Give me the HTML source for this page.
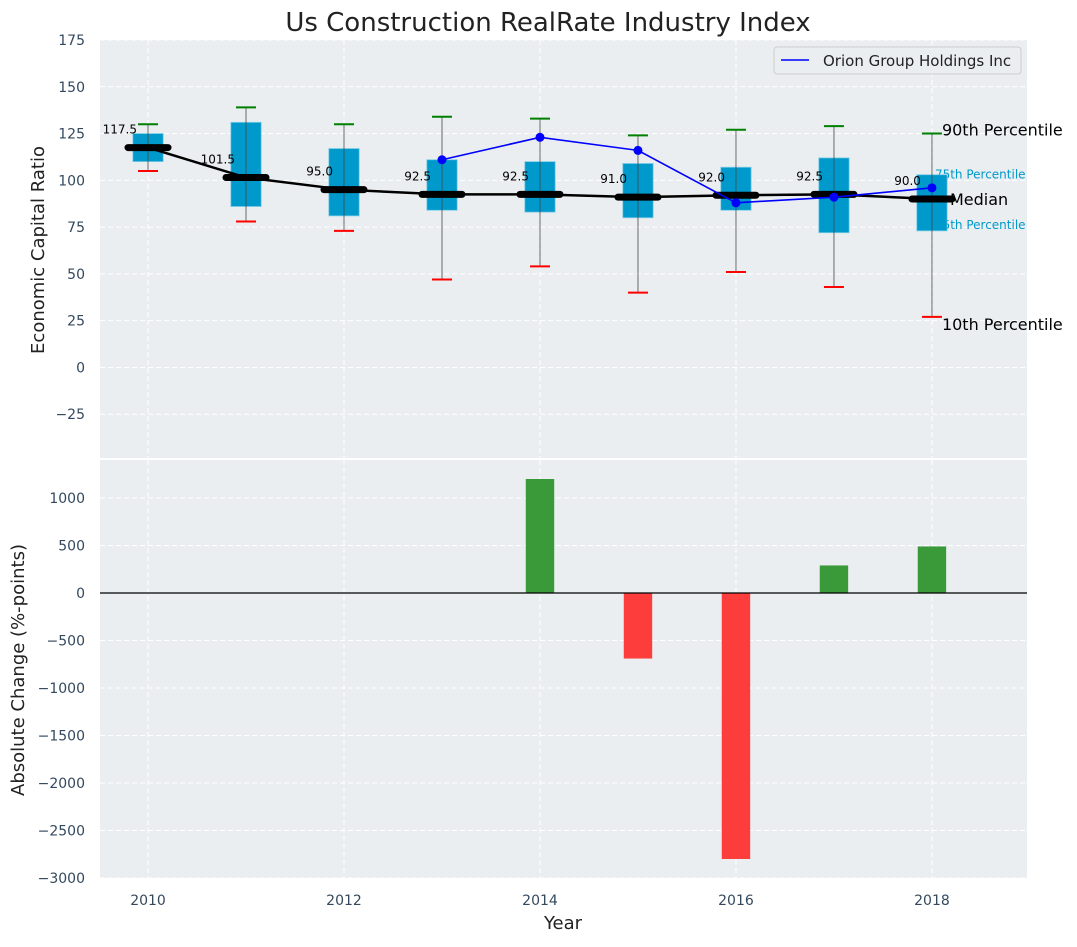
<!DOCTYPE html>
<html><head><meta charset="utf-8"><style>
body{margin:0;background:#fff;}
svg text{font-family:"DejaVu Sans","Liberation Sans",sans-serif;}
</style></head><body>
<svg id="c" width="1077" height="942" xmlns="http://www.w3.org/2000/svg"></svg>
<script>
const years=[2010,2011,2012,2013,2014,2015,2016,2017,2018];
const p10=[105,78,73,47,54,40,51,43,27];
const q1=[110,86,81,84,83,80,84,72,73];
const med=[117.5,101.5,95,92.5,92.5,91,92,92.5,90];
const q3=[125,131,117,111,110,109,107,112,103];
const p90=[130,139,130,134,133,124,127,129,125];
const orionYears=[2013,2014,2015,2016,2017,2018];
const orionVals=[111,123,116,88,91,96];
const barYears=[2014,2015,2016,2017,2018];
const barVals=[1200,-690,-2800,290,490];
const topTicks=[-25,0,25,50,75,100,125,150,175];
const botTicks=[-3000,-2500,-2000,-1500,-1000,-500,0,500,1000];
const xTicks=[2010,2012,2014,2016,2018];

const NS='http://www.w3.org/2000/svg';
const svg=document.getElementById('c');
function el(tag,attrs,parent){const e=document.createElementNS(NS,tag);for(const k in attrs)e.setAttribute(k,attrs[k]);(parent||svg).appendChild(e);return e;}
const L=100,R=1027;
const X=v=>L+(v-2009.51)/(2018.97-2009.51)*(R-L);
const T0=40,T1=458,B0=460,B1=878;
const YT=v=>T0+(175-v)/(175-(-48.4))*(T1-T0);
const YB=v=>B0+(1400-v)/(1400-(-3000))*(B1-B0);
const px=98;

let a=el('rect',{x:L,y:T0,width:R-L,height:T1-T0,fill:'#eaeef0'});

a=el('rect',{x:L,y:B0,width:R-L,height:B1-B0,fill:'#eaeef0'});


for(const t of xTicks){
  let g=el('line',{x1:X(t),x2:X(t),y1:T0,y2:T1,stroke:'#fff','stroke-dasharray':'5,3','stroke-width':1});
  
  g=el('line',{x1:X(t),x2:X(t),y1:B0,y2:B1,stroke:'#fff','stroke-dasharray':'5,3','stroke-width':1});
  
  const tx=el('text',{x:X(t),y:B1+27,'text-anchor':'middle','font-size':14,fill:'#34495e'});tx.textContent=t;
  
}
for(const t of topTicks){
  const g=el('line',{x1:L,x2:R,y1:YT(t),y2:YT(t),stroke:'#fff','stroke-dasharray':'5,3'});
  
  const tx=el('text',{x:L-15,y:YT(t)+5,'text-anchor':'end','font-size':14,fill:'#34495e'});tx.textContent=t<0?'\u2212'+(-t):t;
  
}
for(const t of botTicks){
  const g=el('line',{x1:L,x2:R,y1:YB(t),y2:YB(t),stroke:'#fff','stroke-dasharray':'5,3'});
  
  const tx=el('text',{x:L-15,y:YB(t)+5,'text-anchor':'end','font-size':14,fill:'#34495e'});tx.textContent=t<0?'\u2212'+(-t):t;
  
}
let sep=el('line',{x1:L,x2:R,y1:459,y2:459,stroke:'#fff','stroke-width':2});


const li=years.length-1, lx=X(years[li]);
function ann(txt,x,y,size,col,name){const t=el('text',{x:x,y:y,'font-size':size,fill:col});t.textContent=txt;}
ann('75th Percentile',lx+3,YT(q3[li])+4,12,'#0099cc','p75-annotation');
ann('25th Percentile',lx+3,YT(q1[li])-2,12,'#0099cc','p25-annotation');

const bw=0.31*px;
years.forEach((y,i)=>{
  const cx=X(y);
  const b=el('rect',{x:cx-bw/2,y:YT(q3[i]),width:bw,height:YT(q1[i])-YT(q3[i]),fill:'#0099cc',stroke:'#7fcce6','stroke-width':0.8});
  
  const w=el('line',{x1:cx,x2:cx,y1:YT(p90[i]),y2:YT(p10[i]),stroke:'#444','stroke-opacity':0.6,'stroke-width':1.3});
  
  const hc=el('line',{x1:cx-10,x2:cx+10,y1:YT(p90[i]),y2:YT(p90[i]),stroke:'green','stroke-width':2});
  
  const lc=el('line',{x1:cx-10,x2:cx+10,y1:YT(p10[i]),y2:YT(p10[i]),stroke:'red','stroke-width':2});
  
});
const mp=years.map((y,i)=>X(y)+','+YT(med[i])).join(' ');
let ml=el('polyline',{points:mp,fill:'none',stroke:'#000','stroke-width':2.5});

years.forEach((y,i)=>{
  const cx=X(y);
  const m=el('line',{x1:cx-20,x2:cx+20,y1:YT(med[i]),y2:YT(med[i]),stroke:'#000','stroke-width':7,'stroke-linecap':'round'});
  
  const t=el('text',{x:cx-11,y:YT(med[i])-14,'text-anchor':'end','font-size':12,fill:'#000'});t.textContent=med[i].toFixed(1);
  
});
const op=orionYears.map((y,i)=>X(y)+','+YT(orionVals[i])).join(' ');
let ol=el('polyline',{points:op,fill:'none',stroke:'#0000ff','stroke-width':1.6});

orionYears.forEach((y,i)=>{
  const c=el('circle',{cx:X(y),cy:YT(orionVals[i]),r:4.5,fill:'#0000ff'});
  
});
ann('90th Percentile',lx+10,YT(p90[li])+2,16,'#000','p90-annotation');
ann('Median',lx+18,YT(med[li])+6,16,'#000','median-annotation');
ann('10th Percentile',lx+10,YT(p10[li])+13,16,'#000','p10-annotation');

const lg=el('g',{});
el('rect',{x:774,y:47,width:247,height:27,rx:3,fill:'#eaeef0',stroke:'#ccc'},lg);
el('line',{x1:781,x2:809,y1:60,y2:60,stroke:'#0000ff','stroke-width':1.6},lg);
const lt=el('text',{x:823,y:66,'font-size':15,fill:'#222'},lg);lt.textContent='Orion Group Holdings Inc';


const barW=0.29*px;
barYears.forEach((y,i)=>{
  const v=barVals[i];const y0=YB(0),y1=YB(v);
  const r=el('rect',{x:X(y)-barW/2,y:Math.min(y0,y1),width:barW,height:Math.abs(y1-y0),fill:v>=0?'#3a9a3a':'#fd3c3c'});
  
});
let zl=el('line',{x1:L,x2:R,y1:YB(0),y2:YB(0),stroke:'#000','stroke-width':1.2});


ann('Us Construction RealRate Industry Index',548,31,26,'#222','chart-title');
svg.lastChild.setAttribute('text-anchor','middle');
ann('Year',563,929,18,'#222','x-axis-title');svg.lastChild.setAttribute('text-anchor','middle');
let yt=el('text',{x:0,y:0,'font-size':18,fill:'#222','text-anchor':'middle',transform:'translate(44,250) rotate(-90)'});yt.textContent='Economic Capital Ratio';

yt=el('text',{x:0,y:0,'font-size':18,fill:'#222','text-anchor':'middle',transform:'translate(24,670) rotate(-90)'});yt.textContent='Absolute Change (%-points)';

</script>
</body></html>
